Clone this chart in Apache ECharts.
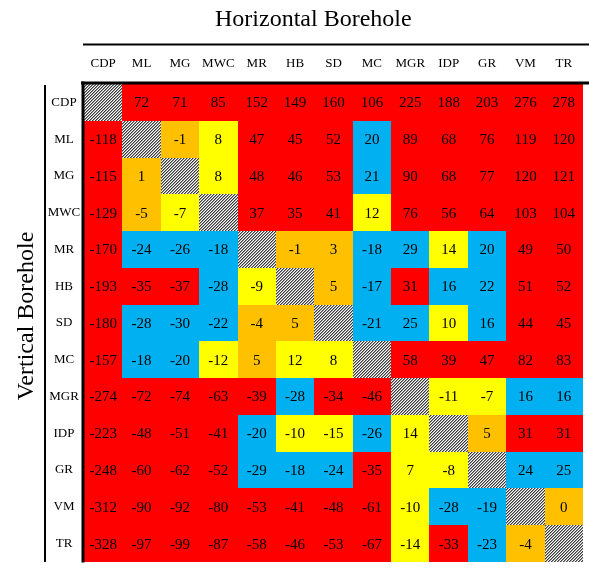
<!DOCTYPE html>
<html>
<head>
<meta charset="utf-8">
<script src="https://cdn.jsdelivr.net/npm/echarts@6/dist/echarts.min.js"></script>
<style>html,body{margin:0;padding:0;background:#fff;}#c{width:589px;height:571px;}</style>
</head>
<body>
<div id="c"></div>
<script>
const horizontalCats = ['CDP','ML','MG','MWC','MR','HB','SD','MC','MGR','IDP','GR','VM','TR'];
const verticalCats = ['CDP','ML','MG','MWC','MR','HB','SD','MC','MGR','IDP','GR','VM','TR'];

// values[row][col]; null on the diagonal
const rowCDP = [null,72,71,85,152,149,160,106,225,188,203,276,278];
const rowML  = [-118,null,-1,8,47,45,52,20,89,68,76,119,120];
const rowMG  = [-115,1,null,8,48,46,53,21,90,68,77,120,121];
const rowMWC = [-129,-5,-7,null,37,35,41,12,76,56,64,103,104];
const rowMR  = [-170,-24,-26,-18,null,-1,3,-18,29,14,20,49,50];
const rowHB  = [-193,-35,-37,-28,-9,null,5,-17,31,16,22,51,52];
const rowSD  = [-180,-28,-30,-22,-4,5,null,-21,25,10,16,44,45];
const rowMC  = [-157,-18,-20,-12,5,12,8,null,58,39,47,82,83];
const rowMGR = [-274,-72,-74,-63,-39,-28,-34,-46,null,-11,-7,16,16];
const rowIDP = [-223,-48,-51,-41,-20,-10,-15,-26,14,null,5,31,31];
const rowGR  = [-248,-60,-62,-52,-29,-18,-24,-35,7,-8,null,24,25];
const rowVM  = [-312,-90,-92,-80,-53,-41,-48,-61,-10,-28,-19,null,0];
const rowTR  = [-328,-97,-99,-87,-58,-46,-53,-67,-14,-33,-23,-4,null];
const values = [rowCDP,rowML,rowMG,rowMWC,rowMR,rowHB,rowSD,rowMC,rowMGR,rowIDP,rowGR,rowVM,rowTR];

// colour class per cell: R red, O orange, Y yellow, B blue, H hatched
const colorClasses = [
  'HRRRRRRRRRRRR',
  'RHOYRRRBRRRRR',
  'ROHYRRRBRRRRR',
  'ROYHRRRYRRRRR',
  'RBBBHOOBBYBRR',
  'RRRBYHOBRBBRR',
  'RBBBOOHBBYBRR',
  'RBBYOYYHRRRRR',
  'RRRRRBRRHYYBB',
  'RRRRBYYBYHORR',
  'RRRRBBBRYYHBB',
  'RRRRRRRRYBBHO',
  'RRRRRRRRYRBOH'
];

const pc = document.createElement('canvas');
pc.width = 3; pc.height = 3;
const g = pc.getContext('2d');
g.fillStyle = '#ffffff'; g.fillRect(0,0,3,3);
for (let k = 0; k < 3; k++) {
  g.fillStyle = '#3a3a3a'; g.fillRect(k, 2-k, 1, 1);
  g.fillStyle = '#9a9a9a'; g.fillRect((k+1)%3, 2-k, 1, 1);
}
const hatch = {image: pc, repeat: 'repeat'};
const fills = {R:'#FF0000', O:'#FFC000', Y:'#FFFF00', B:'#00B0F0', H:hatch};

const data = [];
for (let r = 0; r < values.length; r++) {
  for (let c = 0; c < values[r].length; c++) {
    data.push([c, r, values[r][c] === null ? '' : values[r][c], colorClasses[r][c]]);
  }
}

const FONT = '"Liberation Serif","Times New Roman",serif';
const chart = echarts.init(document.getElementById('c'), null, {renderer:'canvas'});
chart.setOption({
  animation: false,
  backgroundColor: '#fff',
  grid: {left: 84, top: 84, right: 6, bottom: 9},
  xAxis: {
    type: 'category', data: horizontalCats, position: 'top',
    axisLine: {show: false}, axisTick: {show: false}, splitLine: {show: false},
    axisLabel: {interval: 0, fontFamily: FONT, fontSize: 13, color: '#000', margin: 14}
  },
  yAxis: {
    type: 'category', data: verticalCats, inverse: true,
    axisLine: {show: false}, axisTick: {show: false}, splitLine: {show: false},
    axisLabel: {interval: 0, fontFamily: FONT, fontSize: 13, color: '#000', margin: 20, align: 'center'}
  },
  series: [{
    type: 'custom',
    data: data,
    renderItem: function (params, api) {
      const d = data[params.dataIndex];
      const p = api.coord([d[0], d[1]]);
      const s = api.size([1, 1]);
      const x0 = Math.round(p[0] - s[0]/2), y0 = Math.round(p[1] - s[1]/2);
      const x1 = Math.round(p[0] + s[0]/2), y1 = Math.round(p[1] + s[1]/2);
      const children = [{
        type: 'rect',
        shape: {x: x0, y: y0, width: x1 - x0, height: y1 - y0},
        style: {fill: fills[d[3]], stroke: null}
      }];
      if (d[2] !== '') {
        children.push({
          type: 'text',
          style: {text: String(d[2]), x: p[0], y: p[1] + 1, align: 'center', verticalAlign: 'middle',
                  font: '15px ' + FONT, fill: '#000'}
        });
      }
      return {type: 'group', children: children};
    }
  }],
  graphic: [
    {type: 'text', left: 215, top: 8, style: {text: 'Horizontal Borehole', font: '24px ' + FONT, fill: '#000'}},
    {type: 'rect', shape: {x: 83, y: 43.5, width: 506, height: 2}, style: {fill: '#000'}},
    {type: 'rect', shape: {x: 81, y: 81.5, width: 508, height: 3}, style: {fill: '#000'}, z: 10},
    {type: 'rect', shape: {x: 81.5, y: 81.5, width: 3, height: 481}, style: {fill: '#000'}, z: 10},
    {type: 'rect', shape: {x: 44, y: 85, width: 2, height: 477}, style: {fill: '#000'}},
    {type: 'text', x: 27, y: 316, rotation: Math.PI/2,
     style: {text: 'Vertical Borehole', font: '24px ' + FONT, fill: '#000', align: 'center', verticalAlign: 'middle'}}
  ]
});
</script>
</body>
</html>
